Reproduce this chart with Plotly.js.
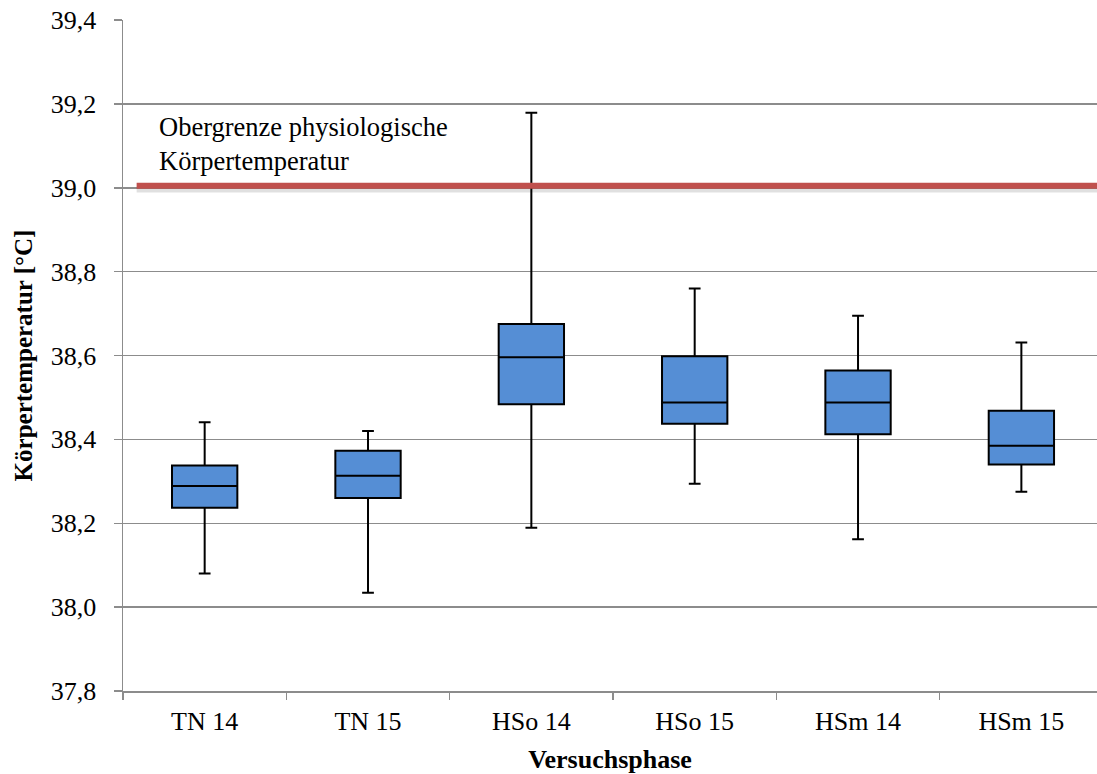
<!DOCTYPE html>
<html>
<head>
<meta charset="utf-8">
<script src="https://cdn.plot.ly/plotly-3.0.1.min.js"></script>
<style>
  html, body { margin: 0; padding: 0; background: #ffffff; }
  #chart { width: 1097px; height: 774px; }
</style>
</head>
<body>
<div id="chart"></div>
<script>
// Versuchsphasen (categories)
const phases = ["TN 14", "TN 15", "HSo 14", "HSo 15", "HSm 14", "HSm 15"];

// Box-plot statistics of body temperature (°C) per phase
const whiskerLow  = [38.080, 38.034, 38.189, 38.294, 38.162, 38.275];
const quartile1   = [38.237, 38.260, 38.484, 38.437, 38.412, 38.340];
const medians     = [38.289, 38.313, 38.596, 38.488, 38.488, 38.385];
const quartile3   = [38.338, 38.373, 38.675, 38.598, 38.564, 38.468];
const whiskerHigh = [38.441, 38.420, 39.179, 38.760, 38.695, 38.631];

// Upper limit of physiological body temperature
const upperLimit = 39.005;
const upperLimitLabel = "Obergrenze physiologische<br>Körpertemperatur";

// y-axis ticks with German decimal comma
const yTickVals = [37.8, 38.0, 38.2, 38.4, 38.6, 38.8, 39.0, 39.2, 39.4];
const yTickText = ["37,8", "38,0", "38,2", "38,4", "38,6", "38,8", "39,0", "39,2", "39,4"];

const serif = "Liberation Serif";
const gridGrey = "#8c8c8c";

const boxTrace = {
  type: "box",
  x: phases,
  lowerfence: whiskerLow,
  q1: quartile1,
  median: medians,
  q3: quartile3,
  upperfence: whiskerHigh,
  width: 0.4,
  whiskerwidth: 0.18,
  fillcolor: "#558ED5",
  line: { color: "#000000", width: 2 },
  boxpoints: false,
  hoverinfo: "skip",
  showlegend: false
};

const layout = {
  width: 1097,
  height: 774,
  margin: { l: 123, r: 0, t: 20, b: 83 },
  paper_bgcolor: "#ffffff",
  plot_bgcolor: "#ffffff",
  font: { family: serif, size: 26, color: "#000000" },
  showlegend: false,
  xaxis: {
    type: "category",
    range: [-0.5, 5.463],
    tickson: "boundaries",
    ticks: "outside",
    ticklen: 7,
    tickwidth: 1.5,
    tickcolor: gridGrey,
    showline: true,
    linecolor: gridGrey,
    linewidth: 1.5,
    showgrid: false,
    zeroline: false,
    tickfont: { family: serif, size: 26, color: "#000000" },
    ticklabelstandoff: 6,
    title: {
      text: "<b>Versuchsphase</b>",
      font: { family: serif, size: 26, color: "#000000" },
      standoff: 15
    },
    automargin: false,
    fixedrange: true
  },
  yaxis: {
    range: [37.8, 39.4],
    tickvals: yTickVals,
    ticktext: yTickText,
    ticks: "outside",
    ticklen: 8,
    tickwidth: 1.5,
    tickcolor: gridGrey,
    showline: true,
    linecolor: gridGrey,
    linewidth: 1.5,
    showgrid: true,
    gridcolor: gridGrey,
    gridwidth: 1.5,
    zeroline: false,
    tickfont: { family: serif, size: 26, color: "#000000" },
    ticklabelstandoff: 12,
    title: {
      text: "<b>Körpertemperatur [°C]</b>",
      font: { family: serif, size: 25, color: "#000000" },
      standoff: 11
    },
    automargin: false,
    fixedrange: true
  },
  shapes: [
    // soft grey shadow under the limit line
    {
      type: "line", xref: "paper", yref: "y",
      x0: 0.014, x1: 1, y0: upperLimit - 0.009, y1: upperLimit - 0.009,
      line: { color: "rgba(0,0,0,0.12)", width: 6 }
    },
    {
      type: "line", xref: "paper", yref: "y",
      x0: 0.014, x1: 1, y0: upperLimit, y1: upperLimit,
      line: { color: "#C0504D", width: 6 }
    }
  ],
  annotations: [
    {
      xref: "paper", yref: "y",
      x: 0.0353, y: 39.1036,
      xanchor: "left", yanchor: "middle",
      align: "left",
      showarrow: false,
      text: upperLimitLabel,
      font: { family: serif, size: 26.5, color: "#000000" }
    }
  ]
};

Plotly.newPlot("chart", [boxTrace], layout, { staticPlot: true, displayModeBar: false });
</script>
</body>
</html>
